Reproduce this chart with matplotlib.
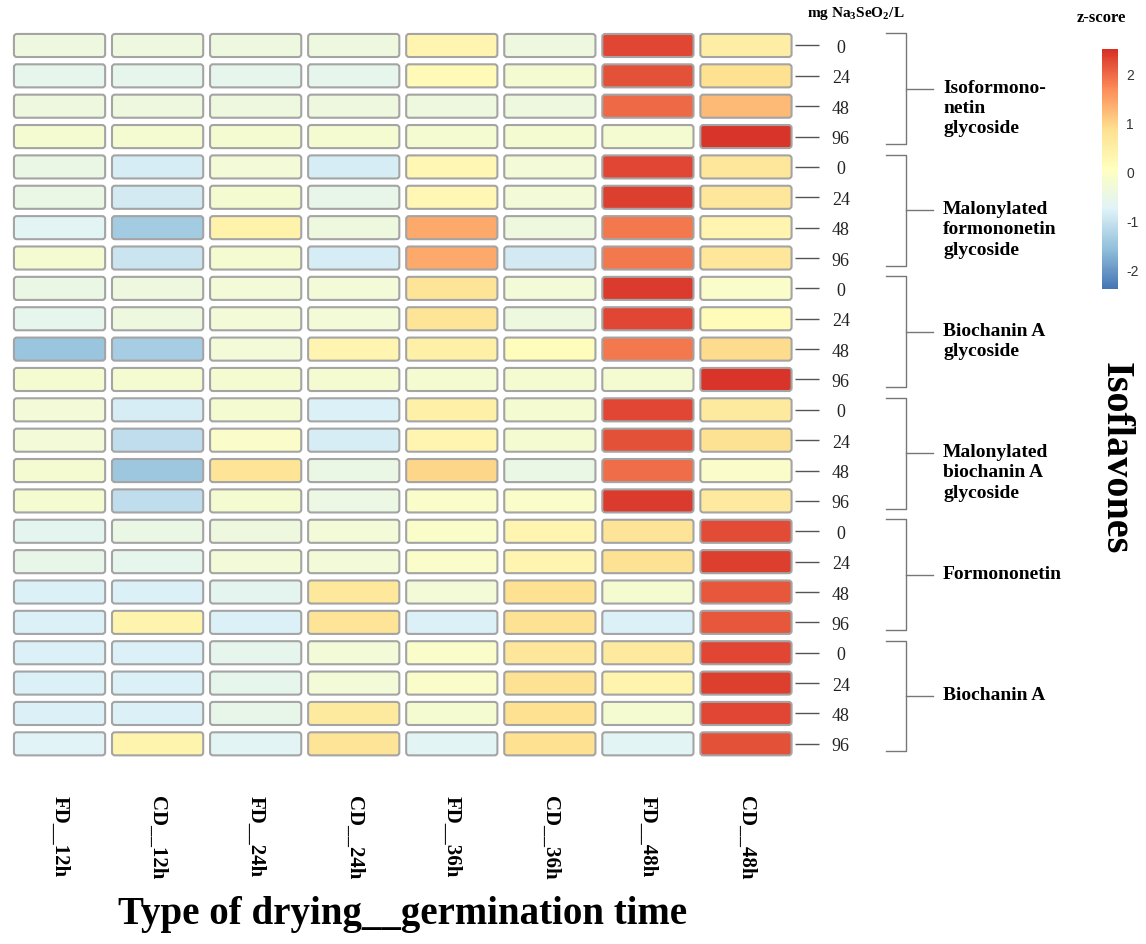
import matplotlib
matplotlib.use("Agg")
import matplotlib.pyplot as plt
import matplotlib.colors as mcolors
from matplotlib.patches import FancyBboxPatch
import numpy as np

plt.rcParams['font.family'] = ['Liberation Serif', 'DejaVu Serif']
plt.rcParams['mathtext.fontset'] = 'custom'
plt.rcParams['mathtext.rm'] = 'Liberation Serif:bold'
plt.rcParams['mathtext.bf'] = 'Liberation Serif:bold'
plt.rcParams['axes.unicode_minus'] = False

# columns: type of drying__germination time
columns = ['FD__12h', 'CD__12h', 'FD__24h', 'CD__24h',
           'FD__36h', 'CD__36h', 'FD__48h', 'CD__48h']
doses = ['0', '24', '48', '96']
groups = ['Isoformono-\nnetin\nglycoside',
          'Malonylated\nformononetin\nglycoside',
          'Biochanin A\nglycoside',
          'Malonylated\nbiochanin A\nglycoside',
          'Formononetin',
          'Biochanin A']

# z-scores, one row per compound x dose
isoform_glyc = [
    [-0.4, -0.4, -0.4, -0.4, 0.3, -0.4, 2.3, 0.5],
    [-0.6, -0.6, -0.6, -0.6, 0.2, -0.2, 2.2, 0.85],
    [-0.4, -0.4, -0.4, -0.4, -0.4, -0.4, 2.0, 1.25],
    [-0.2, -0.2, -0.2, -0.2, -0.2, -0.2, -0.2, 2.45],
]
mal_form_glyc = [
    [-0.5, -0.85, -0.3, -0.85, 0.25, -0.3, 2.3, 0.7],
    [-0.5, -0.9, -0.2, -0.55, 0.25, -0.3, 2.35, 0.7],
    [-0.7, -1.4, 0.4, -0.4, 1.4, -0.4, 1.85, 0.3],
    [-0.2, -1.0, -0.2, -0.85, 1.4, -0.9, 1.85, 0.7],
]
bioA_glyc = [
    [-0.5, -0.4, -0.3, -0.3, 0.75, -0.3, 2.4, -0.1],
    [-0.6, -0.4, -0.3, -0.3, 0.75, -0.4, 2.3, 0.15],
    [-1.5, -1.35, -0.3, 0.3, 0.45, 0.1, 1.85, 0.9],
    [-0.2, -0.2, -0.2, -0.2, -0.2, -0.2, -0.2, 2.45],
]
mal_bioA_glyc = [
    [-0.3, -0.85, -0.2, -0.8, 0.45, -0.2, 2.3, 0.6],
    [-0.3, -1.1, -0.1, -0.85, 0.3, -0.2, 2.2, 0.8],
    [-0.2, -1.45, 0.75, -0.5, 0.95, -0.5, 1.95, -0.1],
    [-0.2, -1.1, -0.2, -0.45, -0.1, -0.1, 2.4, 0.6],
]
formononetin = [
    [-0.65, -0.5, -0.4, -0.3, -0.1, 0.3, 0.75, 2.25],
    [-0.55, -0.6, -0.3, -0.3, -0.1, 0.3, 0.8, 2.35],
    [-0.8, -0.8, -0.65, 0.65, -0.3, 0.85, -0.2, 2.15],
    [-0.8, 0.35, -0.8, 0.75, -0.8, 0.8, -0.8, 2.15],
]
biochaninA = [
    [-0.8, -0.8, -0.6, -0.3, -0.1, 0.7, 0.6, 2.3],
    [-0.8, -0.8, -0.6, -0.3, -0.1, 0.8, 0.35, 2.35],
    [-0.8, -0.8, -0.55, 0.6, -0.2, 0.85, -0.2, 2.3],
    [-0.75, 0.35, -0.7, 0.75, -0.7, 0.85, -0.7, 2.2],
]

z = np.array(isoform_glyc + mal_form_glyc + bioA_glyc +
             mal_bioA_glyc + formononetin + biochaninA)
nrow, ncol = z.shape

# pheatmap-like ramp (reversed RdYlBu, 7 classes)
cmap = mcolors.LinearSegmentedColormap.from_list(
    'zs', ['#4575B4', '#91BFDB', '#E0F3F8', '#FFFFBF',
           '#FEE090', '#FC8D59', '#D73027'])
norm = mcolors.Normalize(vmin=-2.4, vmax=2.5)

W, H = 1146, 945
fig = plt.figure(figsize=(W / 100, H / 100), dpi=100)
ax = fig.add_axes([10.5 / W, 1 - 760 / H, 784.5 / W, 728.7 / H])
ax.set_xlim(0, ncol)
ax.set_ylim(nrow, 0)
for s in ax.spines.values():
    s.set_visible(False)

cw, ch = 0.93, 0.76
for i in range(nrow):
    for j in range(ncol):
        p = FancyBboxPatch((j + (1 - cw) / 2, i + (1 - ch) / 2), cw, ch,
                           boxstyle='round,pad=0,rounding_size=0.03',
                           mutation_aspect=3.2,
                           facecolor=cmap(norm(z[i, j])),
                           edgecolor='#a4a4a4', linewidth=1.5)
        ax.add_patch(p)

# column labels
ax.set_xticks(np.arange(ncol) + 0.5)
ax.set_xticklabels(columns, rotation=-90, fontweight='bold', fontsize=15,
                   va='top', ha='center')
ax.tick_params(axis='x', length=0, pad=26)
ax.set_xlabel('Type of drying__germination time', fontsize=28,
              fontweight='bold', labelpad=12)

# dose labels on the right
ax.yaxis.tick_right()
ax.set_yticks(np.arange(nrow) + 0.5)
ax.set_yticklabels(doses * len(groups), fontsize=13, color='#222222')
for lab in ax.yaxis.get_ticklabels():
    lab.set_ha('center')
ax.tick_params(axis='y', length=17, width=1, color='#555555', pad=16)

# group brackets
xpx = lambda px: (px - 10.5) / 98.06
for g, name in enumerate(groups):
    top, bot = g * 4 + 0.1, g * 4 + 3.75
    mid = (top + bot) / 2
    kw = dict(color='#777777', lw=1, clip_on=False)
    ax.plot([xpx(886), xpx(906), xpx(906), xpx(886)], [top, top, bot, bot], **kw)
    ax.plot([xpx(906), xpx(933)], [mid, mid], **kw)
    ax.text(xpx(943), mid - 0.33, name, fontsize=14, fontweight='bold',
            va='top', ha='left', linespacing=1.25, clip_on=False)

fig.text(856 / W, 1 - 14 / H, r'mg Na$_\mathbf{3}$SeO$_\mathbf{2}$/L',
         fontsize=11, fontweight='bold', ha='center', va='center')
fig.text(1101 / W, 1 - 18 / H, 'z-score', fontsize=12, fontweight='bold',
         ha='center', va='center')
fig.text(1115 / W, 1 - 458 / H, 'Isoflavones', fontsize=29,
         fontweight='bold', rotation=-90, ha='center', va='center')

# colour bar
cax = fig.add_axes([1102 / W, 1 - 290 / H, 16 / W, 240 / H])
sm = plt.cm.ScalarMappable(norm=norm, cmap=cmap)
cb = fig.colorbar(sm, cax=cax, ticks=[-2, -1, 0, 1, 2])
cb.outline.set_visible(False)
cb.ax.tick_params(length=0, pad=6, labelsize=10, labelcolor='#333333')
for lab in cb.ax.get_yticklabels():
    lab.set_family(['Liberation Sans', 'DejaVu Sans'])

fig.savefig('out.png', dpi=100)
